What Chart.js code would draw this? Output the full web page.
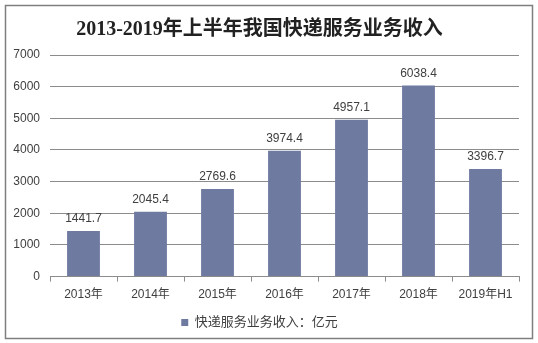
<!DOCTYPE html>
<html>
<head>
<meta charset="utf-8">
<script src="https://cdn.jsdelivr.net/npm/chart.js@4"></script>
<style>
  html, body { margin: 0; padding: 0; background: #fff; }
  #wrap { width: 538px; height: 343px; position: relative; }
</style>
</head>
<body>
<div id="wrap"><canvas id="incomeChart" width="538" height="343"></canvas></div>
<script>
// data
const years = ['2013年', '2014年', '2015年', '2016年', '2017年', '2018年', '2019年H1'];
const income = [1441.7, 2045.4, 2769.6, 3974.4, 4957.1, 6038.4, 3396.7];
const yTicks = [0, 1000, 2000, 3000, 4000, 5000, 6000, 7000];
const seriesName = '快递服务业务收入：亿元';
const chartTitle = '2013-2019年上半年我国快递服务业务收入';

const textColor = '#404040';
const gridColor = '#8c8c8c';
const barColor = '#6f7aa1';
const baseFont = '"Liberation Sans", "Noto Sans CJK SC", sans-serif';

// outer frame
const framePlugin = {
    id: 'frame',
    afterDraw: function(chart) {
        const ctx = chart.ctx;
        ctx.save();
        ctx.strokeStyle = '#7f7f7f';
        ctx.lineWidth = 1.5;
        ctx.strokeRect(5.5, 5.5, 527, 333);
        ctx.restore();
    }
};

// value labels above bars
const valueLabels = {
    id: 'valueLabels',
    afterDatasetsDraw: function(chart) {
        const ctx = chart.ctx;
        const meta = chart.getDatasetMeta(0);
        ctx.save();
        ctx.font = '12px ' + baseFont;
        ctx.fillStyle = textColor;
        ctx.textAlign = 'center';
        ctx.textBaseline = 'middle';
        meta.data.forEach(function(bar, i) {
            ctx.fillText(income[i].toFixed(1), bar.x, bar.y - 12);
        });
        ctx.restore();
    }
};

const ctx = document.getElementById('incomeChart').getContext('2d');
new Chart(ctx, {
    type: 'bar',
    data: {
        labels: years,
        datasets: [{
            label: seriesName,
            data: income,
            backgroundColor: barColor,
            borderWidth: 0,
            categoryPercentage: 1.0,
            barPercentage: 0.49
        }]
    },
    options: {
        responsive: false,
        animation: false,
        devicePixelRatio: 1,
        layout: {
            padding: { left: 0, right: 19, top: 16, bottom: 4 }
        },
        plugins: {
            title: {
                display: true,
                text: chartTitle,
                color: '#222',
                font: { family: '"Liberation Serif", "Noto Sans CJK SC", serif', size: 20, weight: 'bold' },
                padding: { top: 2, bottom: 13 }
            },
            legend: {
                position: 'bottom',
                labels: {
                    color: textColor,
                    font: { family: baseFont, size: 13 },
                    boxWidth: 7,
                    boxHeight: 7,
                    padding: 11
                }
            },
            tooltip: { enabled: false }
        },
        scales: {
            x: {
                afterFit: function(scale) {
                    scale.height = scale.height - 3;
                },
                grid: {
                    offset: true,
                    drawOnChartArea: false,
                    drawTicks: true,
                    tickLength: 5,
                    color: gridColor
                },
                border: { display: true, color: gridColor },
                ticks: {
                    color: textColor,
                    font: { family: baseFont, size: 12 },
                    padding: 6,
                    maxRotation: 0
                }
            },
            y: {
                min: 0,
                max: 7000,
                afterBuildTicks: function(scale) {
                    scale.ticks = yTicks.map(function(v) { return { value: v }; });
                },
                afterFit: function(scale) {
                    scale.width = 50;
                },
                grid: {
                    color: gridColor,
                    drawTicks: false
                },
                border: { display: false },
                ticks: {
                    color: textColor,
                    font: { family: baseFont, size: 12 },
                    padding: 10,
                    callback: function(value) { return String(value); }
                }
            }
        }
    },
    plugins: [framePlugin, valueLabels]
});
</script>
</body>
</html>
